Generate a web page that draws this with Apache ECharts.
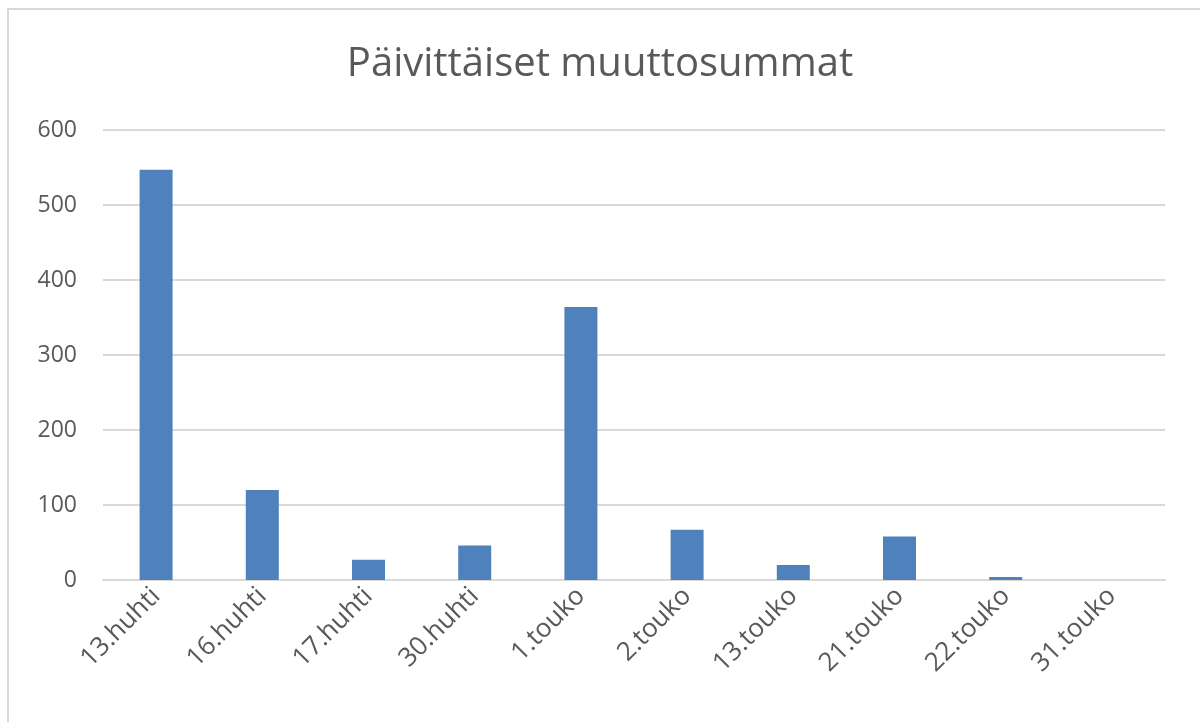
<!DOCTYPE html>
<html><head><meta charset="utf-8">
<script src="https://cdn.jsdelivr.net/npm/echarts@6/dist/echarts.min.js"></script>
<style>
html,body{margin:0;padding:0;background:#fff;}
#frame{position:absolute;left:7px;top:8px;width:1200px;height:730px;border:2px solid #d9d9d9;box-sizing:border-box;}
#c{position:absolute;left:0;top:0;width:1200px;height:722px;}
</style></head>
<body>
<div id="frame"></div>
<div id="c"></div>
<script>
const title = 'Päivittäiset muuttosummat';
const categories = ['13.huhti','16.huhti','17.huhti','30.huhti','1.touko','2.touko','13.touko','21.touko','22.touko','31.touko'];
const values = [547, 120, 27, 46, 364, 67, 20, 58, 4, 0];

const chart = echarts.init(document.getElementById('c'));
chart.setOption({
  animation:false,
  title:{text:title,left:'center',top:40,textStyle:{fontFamily:'Open Sans',fontSize:40,fontWeight:'normal',color:'#595959'}},
  grid:{left:103,right:35,top:130,bottom:142,containLabel:false},
  xAxis:{type:'category',data:categories,
    axisLine:{lineStyle:{color:'#d9d9d9',width:2}},axisTick:{show:false},
    axisLabel:{rotate:45,fontFamily:'Open Sans',fontSize:26,color:'#595959',margin:12,interval:0}},
  yAxis:{type:'value',min:0,max:600,interval:100,
    axisLine:{show:false},axisTick:{show:false},
    splitLine:{lineStyle:{color:'#d9d9d9',width:2}},
    axisLabel:{fontFamily:'Open Sans',fontSize:23,color:'#595959',margin:26}},
  series:[{type:'bar',data:values,barWidth:33,itemStyle:{color:'#4f81bd'}}]
});
</script>
</body></html>
